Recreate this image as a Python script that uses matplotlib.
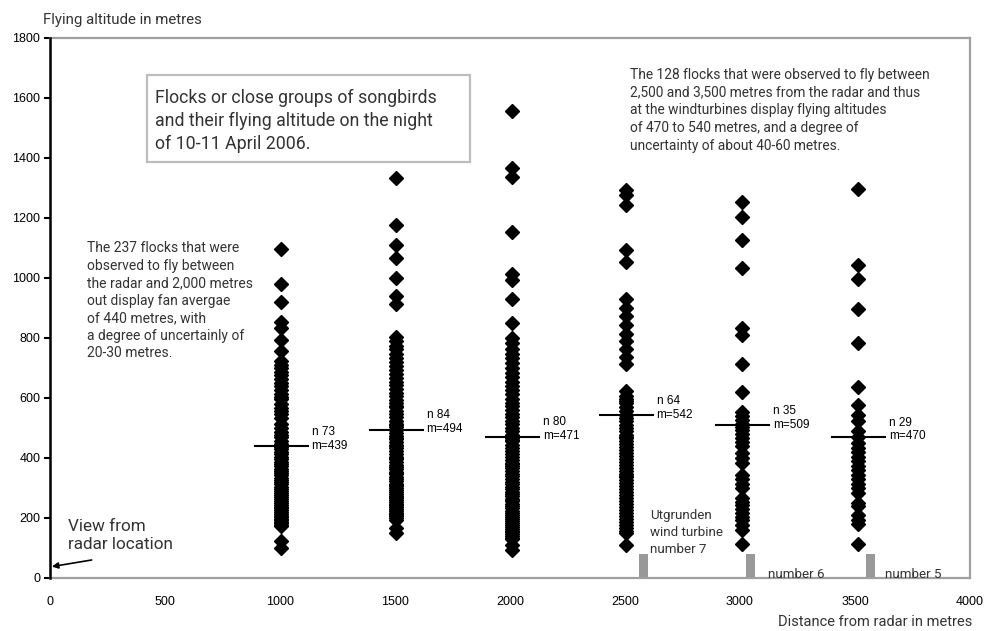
import matplotlib
matplotlib.use("Agg")
import matplotlib.pyplot as plt
from matplotlib.patches import Rectangle

# Distance of each observation column from the radar (m)
column_x = [1005, 1505, 2010, 2505, 3010, 3515]

# Flying altitudes (m) of the flocks in each distance column
alt_1000 = [1097, 980, 920, 853, 835, 795, 757,
            722, 710, 700, 688, 676, 665, 650, 640, 628, 615, 605, 598, 580,
            566, 556, 548, 532, 515, 500, 488, 478, 470, 458, 447, 438, 430,
            421, 412, 403, 396, 388, 380, 372, 365, 357, 350, 342, 335, 327,
            320, 312, 305, 298, 291, 284, 277, 270, 263, 257, 250, 244, 238,
            232, 226, 220, 214, 208, 203, 198, 193, 188, 183, 178, 173,
            125, 100]
alt_1500 = [1335, 1178, 1110, 1068, 1000, 940, 912,
            805, 790, 775, 762, 748, 735, 720, 706, 692, 680,
            668, 655, 642, 630, 618, 606, 594, 582, 575, 570, 558,
            547, 536, 525, 514, 510, 503, 492, 482, 472, 468, 462, 452,
            442, 440, 432, 423, 414, 405, 400, 396, 387, 378, 370, 362,
            354, 350, 346, 338, 330, 322, 315, 310, 308, 301, 294, 287,
            280, 273, 270, 266, 260, 254, 248, 245, 242, 236, 230, 224,
            218, 215, 212, 206, 200, 195,
            168, 150]
alt_2000 = [1557, 1367, 1337, 1153, 1015, 992, 930, 850,
            800, 782, 765, 748, 732, 716, 700, 685, 670, 655,
            640, 626, 612, 598, 585, 572, 560, 548, 536, 524,
            512, 500, 489, 478, 467, 460, 456, 445, 434, 424, 414,
            404, 394, 384, 380, 375, 366, 357, 348, 339, 330, 321,
            312, 304, 296, 288, 280, 272, 264, 260, 256, 248, 240,
            232, 225, 218, 211, 204, 197, 190, 183, 176, 170,
            164, 158, 152, 146, 140, 135, 130,
            110, 95]
alt_2500 = [1292, 1278, 1245, 1093, 1055,
            930, 900, 872, 845, 815, 790, 765, 738, 712,
            625, 608, 596, 590, 582, 570, 558, 545, 533, 522, 511,
            500, 489, 478, 470, 467, 456, 446, 436, 426, 416, 406,
            396, 386, 376, 366, 356, 346, 340, 336, 326, 316, 306,
            296, 286, 276, 266, 256, 246, 236, 226, 216, 206,
            196, 186, 176, 166, 156, 150,
            110]
alt_3000 = [1252, 1205, 1128, 1033, 835, 810, 715, 620,
            555, 540, 528, 515, 503, 492, 480, 468,
            455, 440, 418, 400, 385,
            345, 330, 315, 300,
            268, 255, 242, 230, 218, 205, 192, 178, 160,
            115]
alt_3500 = [1298, 1045, 998, 897, 782, 638, 578, 545, 525,
            490, 470, 450, 435, 420, 405, 390, 375, 360,
            345, 330, 315, 300, 285,
            250, 240, 210, 195, 180,
            115]
altitudes = [alt_1000, alt_1500, alt_2000, alt_2500, alt_3000, alt_3500]

flock_counts = [73, 84, 80, 64, 35, 29]
mean_altitudes = [439, 494, 471, 542, 509, 470]

# Utgrunden wind turbines
turbine_x = [2580, 3047, 3567]
turbine_height = [80, 80, 80]

x_ticks = [0, 500, 1000, 1500, 2000, 2500, 3000, 3500, 4000]
y_ticks = [0, 200, 400, 600, 800, 1000, 1200, 1400, 1600, 1800]

NOTE_FONT = ["Roboto", "DejaVu Sans"]
NUM_FONT = ["Liberation Sans", "DejaVu Sans"]
NOTE_COLOR = "#333333"
FRAME_GREY = "#a0a0a0"

W, H = 992, 631
fig = plt.figure(figsize=(W / 100, H / 100), dpi=100)
ax = fig.add_axes([50 / W, 1 - 578 / H, 920 / W, 540 / H])
ax.set_xlim(0, 4000)
ax.set_ylim(0, 1800)


def px(x, y):
    """Figure fraction from pixel position measured from the top-left corner."""
    return x / W, 1 - y / H


# frame
for side in ("top", "right", "bottom"):
    ax.spines[side].set_color(FRAME_GREY)
    ax.spines[side].set_linewidth(1.6)
ax.spines["left"].set_color("black")
ax.spines["left"].set_linewidth(1.8)
ax.spines["left"].set_zorder(5)

ax.set_xticks(x_ticks)
ax.set_yticks(y_ticks)
ax.tick_params(axis="x", length=0, pad=13, labelsize=9)
ax.tick_params(axis="y", direction="out", length=4, width=1.5, pad=3, labelsize=9)
for lab in ax.get_xticklabels() + ax.get_yticklabels():
    lab.set_family(NUM_FONT)

# turbines
ax.bar(turbine_x, turbine_height, width=38, color="#999999", zorder=2)

# flocks and mean altitudes
for x, alts, n, m in zip(column_x, altitudes, flock_counts, mean_altitudes):
    ax.plot([x] * len(alts), alts, linestyle="none", marker="D",
            markersize=6.8, color="black", zorder=3, clip_on=False)
    ax.plot([x - 115, x + 115], [m, m], color="black", lw=1.5, zorder=4)
    ax.text(x + 132, m + 48, f"n {n}", family=NUM_FONT, fontsize=8.5,
            va="center", ha="left")
    ax.text(x + 132, m + 2, f"m={m}", family=NUM_FONT, fontsize=8.5,
            va="center", ha="left")

# axis titles
fig.text(*px(43, 20), "Flying altitude in metres", family=NOTE_FONT,
         fontsize=10.8, color=NOTE_COLOR, va="center", ha="left")
fig.text(*px(972, 622), "Distance from radar in metres", family=NOTE_FONT,
         fontsize=10.5, color=NOTE_COLOR, va="center", ha="right")

# title box
bx0, bx1, by0, by1 = 147, 470, 75, 162
fig.patches.append(Rectangle(px(bx0, by1), (bx1 - bx0) / W, (by1 - by0) / H,
                             transform=fig.transFigure, fill=True,
                             facecolor="white", edgecolor="#bdbdbd",
                             linewidth=1.6, zorder=6))
fig.text(*px(155, 89), "Flocks or close groups of songbirds\n"
         "and their flying altitude on the night\nof 10-11 April 2006.",
         family=NOTE_FONT, fontsize=12.8, color=NOTE_COLOR, va="top",
         ha="left", linespacing=1.33, zorder=7)

# explanatory notes
fig.text(*px(630, 68), "The 128 flocks that were observed to fly between\n"
         "2,500 and 3,500 metres from the radar and thus\n"
         "at the windturbines display flying altitudes\n"
         "of 470 to 540 metres, and a degree of\n"
         "uncertainty of about 40-60 metres.",
         family=NOTE_FONT, fontsize=9.9, color=NOTE_COLOR, va="top",
         ha="left", linespacing=1.34)
fig.text(*px(87, 241), "The 237 flocks that were\nobserved to fly between\n"
         "the radar and 2,000 metres\nout display fan avergae\n"
         "of 440 metres, with\na degree of uncertainly of\n20-30 metres.",
         family=NOTE_FONT, fontsize=10, color=NOTE_COLOR, va="top",
         ha="left", linespacing=1.32)

# radar location
fig.text(*px(68, 519), "View from\nradar location", family=NOTE_FONT,
         fontsize=12.3, color=NOTE_COLOR, va="top", ha="left", linespacing=1.28)
ax.annotate("", xy=(8, 38), xytext=(181, 60),
            arrowprops=dict(arrowstyle="-|>", color="black", lw=1.2,
                            mutation_scale=9, shrinkA=0, shrinkB=0))

# turbine labels
fig.text(*px(650, 509), "Utgrunden\nwind turbine\nnumber 7", family=NOTE_FONT,
         fontsize=9.6, color=NOTE_COLOR, va="top", ha="left", linespacing=1.42)
fig.text(*px(768, 575), "number 6", family=NOTE_FONT, fontsize=9.6,
         color=NOTE_COLOR, va="center", ha="left")
fig.text(*px(885, 575), "number 5", family=NOTE_FONT, fontsize=9.6,
         color=NOTE_COLOR, va="center", ha="left")

fig.savefig("out.png", dpi=100)
